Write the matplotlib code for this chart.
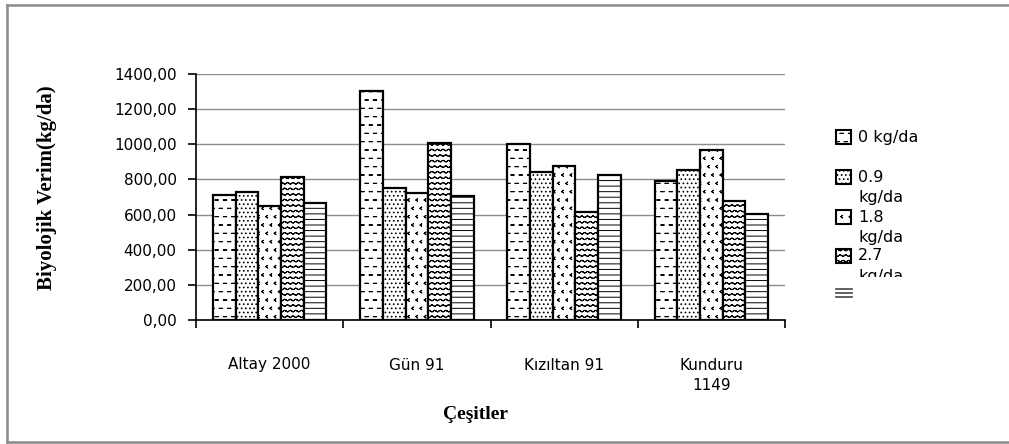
import warnings
import numpy as np
import matplotlib
matplotlib.use("Agg")
from matplotlib import pyplot as plt
from matplotlib import hatch as mhatch
from matplotlib.path import Path
from matplotlib.patches import Rectangle
from matplotlib.lines import Line2D
from matplotlib.transforms import Bbox, TransformedBbox

warnings.filterwarnings("ignore")

# data
cesitler = ["Altay 2000", "Gün 91", "Kızıltan 91", "Kunduru\n1149"]
dozlar = ["0 kg/da", "0.9 kg/da", "1.8 kg/da", "2.7 kg/da", "3.6 kg/da"]
verim_0 = [711, 1302, 1002, 789]
verim_09 = [727, 751, 842, 854]
verim_18 = [649, 725, 878, 969]
verim_27 = [814, 1007, 616, 679]
verim_36 = [666, 704, 827, 603]
y_ticks = [0, 200, 400, 600, 800, 1000, 1200, 1400]


# extra hatch shapes so the bars look like the Excel patterns
class Dashes(mhatch.Shapes):
    size = 1.0
    filled = False
    shape_vertices = np.array([[-0.2, 0.0], [0.2, 0.0]])
    shape_codes = np.array([Path.MOVETO, Path.LINETO])

    def __init__(self, hatch, density):
        self.num_rows = hatch.count('d') * density
        super().__init__(hatch, density)


class Chevrons(mhatch.Shapes):
    size = 1.0
    filled = False
    shape_vertices = np.array([[0.1, 0.15], [-0.1, 0.0], [0.1, -0.15]])
    shape_codes = np.array([Path.MOVETO, Path.LINETO, Path.LINETO])

    def __init__(self, hatch, density):
        self.num_rows = hatch.count('v') * density
        super().__init__(hatch, density)


_t = np.linspace(-0.5, 0.5, 9)
class Waves(mhatch.Shapes):
    size = 1.0
    filled = False
    shape_vertices = np.column_stack([_t, 0.15 * np.sin(2 * np.pi * _t)])
    shape_codes = np.array([Path.MOVETO] + [Path.LINETO] * (len(_t) - 1))

    def __init__(self, hatch, density):
        self.num_rows = hatch.count('w') * density
        super().__init__(hatch, density)


mhatch._hatch_types.extend([Dashes, Chevrons, Waves])
plt.rcParams['hatch.linewidth'] = 0.7

hatches = ['dd', '....', 'vv', 'www', '---']
series = [verim_0, verim_09, verim_18, verim_27, verim_36]

W, H = 1009, 444
fig = plt.figure(figsize=(W / 100, H / 100), dpi=100)
ax = fig.add_axes([196 / W, 1 - 320 / H, (785 - 196) / W, (320 - 74) / H])

x = np.arange(len(cesitler))
w = 0.154
for i, (vals, h) in enumerate(zip(series, hatches)):
    ax.bar(x + (i - 2) * w, vals, w, color='white', edgecolor='black',
           linewidth=1.6, hatch=h, zorder=3)

ax.set_xlim(-0.5, 3.5)
ax.set_ylim(0, 1400)
ax.yaxis.grid(True, color='#8c8c8c', linewidth=1)
ax.set_axisbelow(True)
for s in ['top', 'right']:
    ax.spines[s].set_visible(False)
for s in ['left', 'bottom']:
    ax.spines[s].set_color('black')
    ax.spines[s].set_linewidth(1.2)

ax.set_yticks(y_ticks)
ax.set_yticklabels([f"{v:.2f}".replace(".", ",") for v in y_ticks],
                   fontsize=11, family='DejaVu Sans')
ax.tick_params(axis='y', length=6, width=1.2, pad=8)

ax.set_xticks(x)
ax.set_xticklabels(cesitler, fontsize=11, family='DejaVu Sans', linespacing=1.5)
ax.set_xticks(np.arange(-0.5, 4), minor=True)
ax.tick_params(axis='x', which='major', length=0, pad=27)
ax.tick_params(axis='x', which='minor', length=6, width=1.2)

fig.text(475 / W, 1 - 414 / H, "Çeşitler", ha='center', va='center',
         fontsize=14, fontweight='bold', family='Liberation Serif')
fig.text(47 / W, 1 - 188 / H, "Biyolojik Verim(kg/da)", ha='center', va='center',
         rotation=90, fontsize=15, fontweight='bold', family='Liberation Serif')

# legend, drawn by hand so it is cut off like the Excel one
clip = TransformedBbox(Bbox.from_extents(0, 1 - 277 / H, 1, 1), fig.transFigure)
entry_y = [137, 177, 217, 256]
for i, yy in enumerate(entry_y):
    fig.add_artist(Rectangle((836 / W, 1 - (yy + 7) / H), 15 / W, 14 / H,
                             transform=fig.transFigure, facecolor='white',
                             edgecolor='black', linewidth=1.5, hatch=hatches[i]))
    lines = [dozlar[i]] if i == 0 else dozlar[i].split(" ")
    for k, line in enumerate(lines):
        t = fig.text(858 / W, 1 - (yy + 20 * k) / H, line, ha='left', va='center',
                     fontsize=11.5, family='DejaVu Sans')
        t.set_clip_box(clip)
        t.set_clip_on(True)
for yy in [289, 293, 297]:
    fig.add_artist(Line2D([836 / W, 852 / W], [1 - yy / H, 1 - yy / H],
                          transform=fig.transFigure, color='#444444', linewidth=1.2))

# outer chart border
border = dict(transform=fig.transFigure, color='#8a8a8a', linewidth=1.8)
fig.add_artist(Line2D([7 / W, 1], [1 - 5 / H, 1 - 5 / H], **border))
fig.add_artist(Line2D([7 / W, 7 / W], [1 - 5 / H, 1 - 442 / H], **border))
fig.add_artist(Line2D([7 / W, 1], [1 - 442 / H, 1 - 442 / H], **border))

fig.savefig("out.png", dpi=100)
